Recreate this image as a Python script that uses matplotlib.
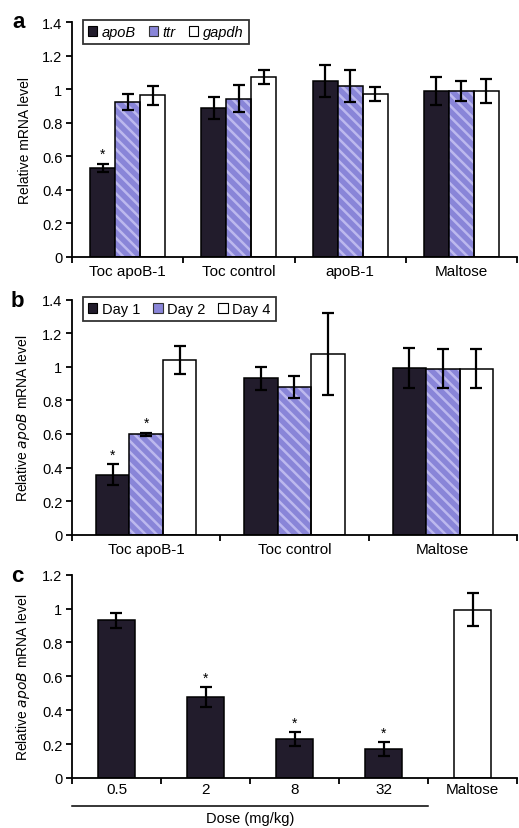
import matplotlib
matplotlib.use("Agg")
import matplotlib.pyplot as plt
from matplotlib.patches import Patch
import numpy as np

plt.rcParams['font.family'] = ['Liberation Sans', 'DejaVu Sans']
plt.rcParams['hatch.linewidth'] = 1.8

# ---------------- data ----------------
a_categories = ["Toc apoB-1", "Toc control", "apoB-1", "Maltose"]
a_series = ["apoB", "ttr", "gapdh"]
a_apoB = [0.53, 0.89, 1.05, 0.99]
a_apoB_err = [0.025, 0.065, 0.098, 0.085]
a_ttr = [0.925, 0.945, 1.02, 0.99]
a_ttr_err = [0.05, 0.08, 0.095, 0.062]
a_gapdh = [0.965, 1.075, 0.97, 0.99]
a_gapdh_err = [0.057, 0.042, 0.042, 0.072]
a_star = [[True, False, False, False], [False] * 4, [False] * 4]

b_categories = ["Toc apoB-1", "Toc control", "Maltose"]
b_series = ["Day 1", "Day 2", "Day 4"]
b_day1 = [0.357, 0.933, 0.995]
b_day1_err = [0.062, 0.068, 0.12]
b_day2 = [0.598, 0.878, 0.99]
b_day2_err = [0.01, 0.065, 0.114]
b_day4 = [1.04, 1.075, 0.99]
b_day4_err = [0.083, 0.245, 0.115]
b_star = [[True, False, False], [True, False, False], [False] * 3]

c_categories = ["0.5", "2", "8", "32", "Maltose"]
c_values = [0.93, 0.476, 0.228, 0.169, 0.993]
c_err = [0.045, 0.059, 0.042, 0.041, 0.098]
c_star = [False, True, True, True, False]
c_is_control = [False, False, False, False, True]

# ---------------- styles ----------------
DARK = '#221c2c'
HATCH_FACE = '#8985d8'
HATCH_LINE = '#bcb8ee'
W, H = 519, 829
fig = plt.figure(figsize=(W / 100, H / 100), dpi=100)

def ax_rect(left_px, right_px, y0_px, ytop_px):
    return [left_px / W, 1 - y0_px / H, (right_px - left_px) / W, (y0_px - ytop_px) / H]

series_styles = [
    dict(face=DARK, hatch=None),
    dict(face=HATCH_FACE, hatch='\\\\\\'),
    dict(face='white', hatch=None),
]

def style_axes(ax, ymax, ystep, ncat, cats, ylabel, label_pad):
    ax.set_xlim(-0.5, ncat - 0.5)
    ax.set_ylim(0, ymax)
    for s in ['top', 'right']:
        ax.spines[s].set_visible(False)
    for s in ['left', 'bottom']:
        ax.spines[s].set_linewidth(1.3)
    yt = np.round(np.arange(0, ymax + 1e-9, ystep), 2)
    ax.set_yticks(yt)
    ax.set_yticklabels([('%g' % v) for v in yt], fontsize=10.5)
    ax.tick_params(axis='y', direction='out', length=4, width=1.3, pad=3)
    ax.set_xticks(np.arange(-0.5, ncat, 1.0))
    ax.set_xticklabels([])
    ax.tick_params(axis='x', which='major', direction='out', length=4, width=1.3)
    ax.set_xticks(np.arange(ncat), minor=True)
    ax.set_xticklabels(cats, minor=True, fontsize=11)
    ax.tick_params(axis='x', which='minor', length=0, pad=label_pad)
    ax.set_ylabel(ylabel, fontsize=10, labelpad=7)

def grouped(ax, cats, vals, errs, stars, width):
    x = np.arange(len(cats))
    n = len(vals)
    for i, (v, e, st) in enumerate(zip(vals, errs, stars)):
        pos = x + (i - (n - 1) / 2) * width
        sty = series_styles[i]
        if sty['hatch']:
            ax.bar(pos, v, width, color=sty['face'], hatch=sty['hatch'],
                   edgecolor=HATCH_LINE, linewidth=0, zorder=2)
            ax.bar(pos, v, width, fill=False, edgecolor='black', linewidth=1.1, zorder=3)
        else:
            ax.bar(pos, v, width, color=sty['face'], edgecolor='black', linewidth=1.1, zorder=2)
        ax.errorbar(pos, v, yerr=e, fmt='none', ecolor='black', elinewidth=1.6,
                    capsize=4.5, capthick=1.6, zorder=4)
        for p, vv, ee, s in zip(pos, v, e, st):
            if s:
                ax.annotate('*', (p, vv + ee), xytext=(0, 2), textcoords='offset points',
                            ha='center', va='bottom', fontsize=10)

def legend(ax, labels, italic, y_anchor):
    handles = [
        Patch(facecolor=DARK, edgecolor='black', linewidth=0.8),
        Patch(facecolor=HATCH_FACE, edgecolor='#333333', linewidth=0.8),
        Patch(facecolor='white', edgecolor='black', linewidth=0.8),
    ]
    leg = ax.legend(handles, labels, loc='upper left', bbox_to_anchor=(0.024, y_anchor),
                    ncol=3, frameon=True, fancybox=False, borderaxespad=0,
                    handlelength=0.65, handleheight=0.65, handletextpad=0.3,
                    columnspacing=0.9, borderpad=0.35,
                    prop=dict(size=10.5, style='italic' if italic else 'normal'))
    leg.get_frame().set_edgecolor('black')
    leg.get_frame().set_linewidth(1.3)

# ---------------- panel a ----------------
ax1 = fig.add_axes(ax_rect(72, 517, 258, 23.3))
grouped(ax1, a_categories, [a_apoB, a_ttr, a_gapdh],
        [a_apoB_err, a_ttr_err, a_gapdh_err], a_star, 0.225)
style_axes(ax1, 1.4, 0.2, len(a_categories), a_categories, 'Relative mRNA level', 5)
legend(ax1, a_series, True, 1.01)
fig.text(12 / W, 1 - 22 / H, 'a', fontsize=16, fontweight='bold', va='center')

# ---------------- panel b ----------------
ax2 = fig.add_axes(ax_rect(72, 517, 535.7, 300.7))
grouped(ax2, b_categories, [b_day1, b_day2, b_day4],
        [b_day1_err, b_day2_err, b_day4_err], b_star, 0.225)
style_axes(ax2, 1.4, 0.2, len(b_categories), b_categories,
           r'Relative $\it{apoB}$ mRNA level', 5)
legend(ax2, b_series, False, 1.012)
fig.text(11 / W, 1 - 302 / H, 'b', fontsize=16, fontweight='bold', va='center')

# ---------------- panel c ----------------
ax3 = fig.add_axes(ax_rect(72, 517, 779, 575.7))
xc = np.arange(len(c_categories))
for xi, v, e, s, ctrl in zip(xc, c_values, c_err, c_star, c_is_control):
    ax3.bar(xi, v, 0.41, color='white' if ctrl else DARK, edgecolor='black',
            linewidth=1.1, zorder=2)
    ax3.errorbar(xi, v, yerr=e, fmt='none', ecolor='black', elinewidth=1.6,
                 capsize=4.5, capthick=1.6, zorder=4)
    if s:
        ax3.annotate('*', (xi, v + e), xytext=(0, 2), textcoords='offset points',
                     ha='center', va='bottom', fontsize=10)
style_axes(ax3, 1.2, 0.2, len(c_categories), c_categories,
           r'Relative $\it{apoB}$ mRNA level', 3)
n_dose = sum(1 for c in c_is_control if not c)
ax3.plot([-0.5, n_dose - 0.5], [-0.138, -0.138], color='black', lw=1.1,
         transform=ax3.get_xaxis_transform(), clip_on=False)
ax3.text((n_dose - 1) / 2, -0.195, 'Dose (mg/kg)', transform=ax3.get_xaxis_transform(),
         ha='center', va='center', fontsize=10.5)
fig.text(11 / W, 1 - 577 / H, 'c', fontsize=16, fontweight='bold', va='center')

fig.savefig('out.png', dpi=100)
